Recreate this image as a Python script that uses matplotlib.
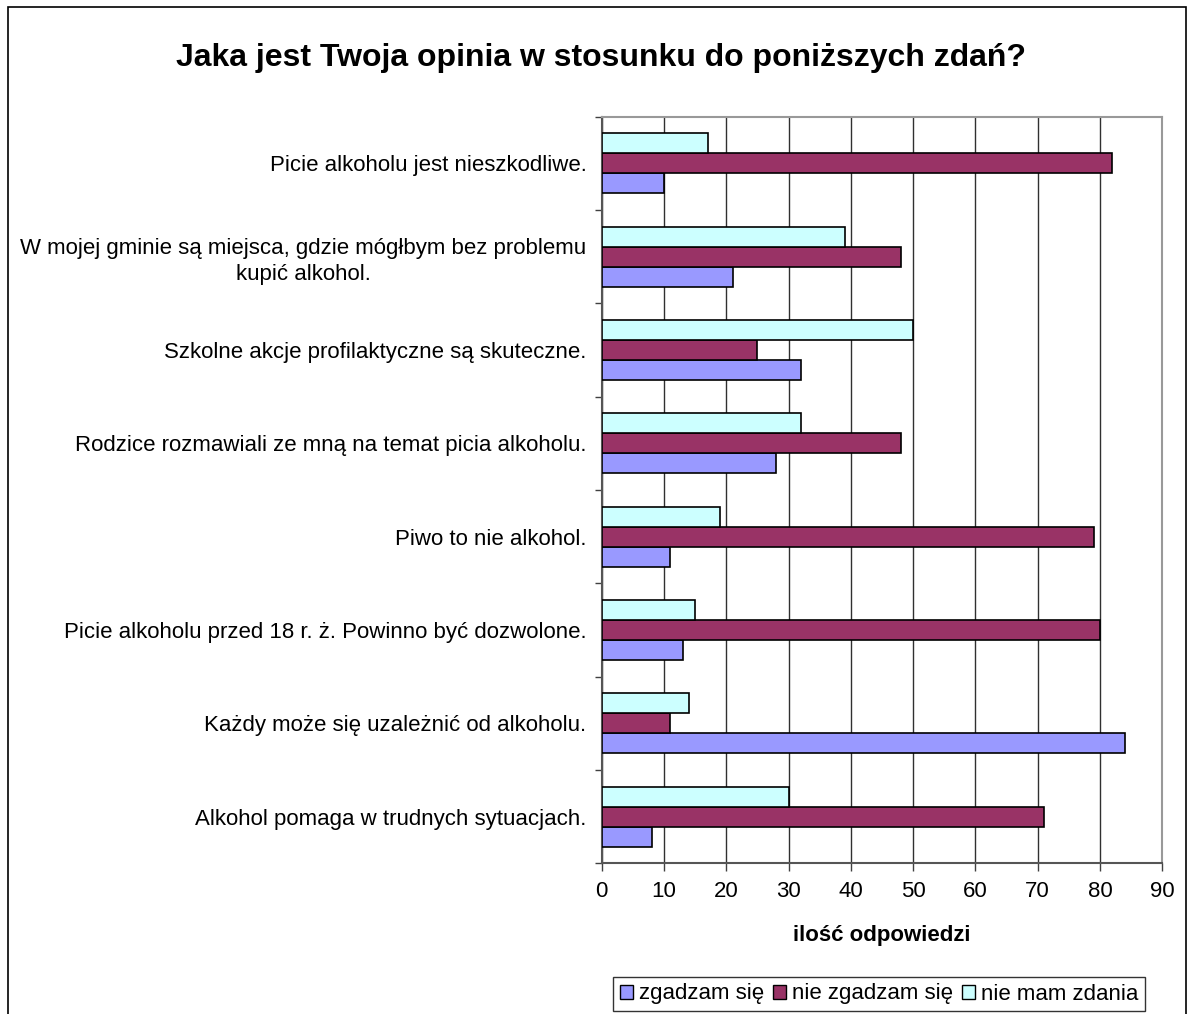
import matplotlib
matplotlib.use("Agg")
import matplotlib.pyplot as plt
from matplotlib.patches import Rectangle, Patch
import numpy as np

plt.rcParams['font.family'] = ['Liberation Sans', 'DejaVu Sans']

categories = [
    "Picie alkoholu jest nieszkodliwe.",
    "W mojej gminie są miejsca, gdzie mógłbym bez problemu\nkupić alkohol.",
    "Szkolne akcje profilaktyczne są skuteczne.",
    "Rodzice rozmawiali ze mną na temat picia alkoholu.",
    "Piwo to nie alkohol.",
    "Picie alkoholu przed 18 r. ż. Powinno być dozwolone.",
    "Każdy może się uzależnić od alkoholu.",
    "Alkohol pomaga w trudnych sytuacjach.",
]
series_names = ["zgadzam się", "nie zgadzam się", "nie mam zdania"]
zgadzam = [10, 21, 32, 28, 11, 13, 84, 8]
nie_zgadzam = [82, 48, 25, 48, 79, 80, 11, 71]
nie_mam = [17, 39, 50, 32, 19, 15, 14, 30]
colors = ["#9999FF", "#993366", "#CCFFFF"]
xticks = list(range(0, 91, 10))

W, H = 1187, 1014
fig = plt.figure(figsize=(W / 100, H / 100), dpi=100)

# outer chart border (bottom edge lies outside the picture)
fig.patches.append(Rectangle((8 / W, -0.05), (1186 - 8) / W, 1.05 - 7 / H,
                             transform=fig.transFigure, fill=False,
                             edgecolor='black', linewidth=1.2))

left, right, top, bottom = 601.7, 1162.3, 116.7, 863.3
ax = fig.add_axes([left / W, 1 - bottom / H, (right - left) / W, (bottom - top) / H])

n = len(categories)
centers = np.arange(n) + 0.5
h = 0.215
ax.barh(centers + h, zgadzam, height=h, color=colors[0], edgecolor='black', linewidth=1.2, zorder=3)
ax.barh(centers, nie_zgadzam, height=h, color=colors[1], edgecolor='black', linewidth=1.2, zorder=3)
ax.barh(centers - h, nie_mam, height=h, color=colors[2], edgecolor='black', linewidth=1.2, zorder=3)

ax.set_xlim(0, 90)
ax.set_ylim(n, 0)
ax.set_xticks(xticks)
ax.set_xticklabels([str(t) for t in xticks], fontsize=16)
ax.tick_params(axis='x', length=6, width=1, color='#404040', pad=7)
ax.xaxis.grid(True, color='#303030', linewidth=1, zorder=0)
ax.set_axisbelow(True)

ax.set_yticks(np.arange(n + 1))
ax.set_yticklabels([])
ax.tick_params(axis='y', which='major', length=5, width=1, color='#404040')
ax.set_yticks(centers, minor=True)
ax.set_yticklabels(categories, minor=True, fontsize=16)
ax.tick_params(axis='y', which='minor', length=0, pad=11)
for lab in ax.get_yticklabels(minor=True):
    lab.set_multialignment('center')
    lab.set_linespacing(1.3)

for s in ['top', 'right']:
    ax.spines[s].set_color('#999999')
    ax.spines[s].set_linewidth(1.5)
ax.spines['left'].set_color('#555555')
ax.spines['bottom'].set_color('#555555')
ax.spines['left'].set_linewidth(1.5)
ax.spines['bottom'].set_linewidth(1.5)

ax.set_xlabel("ilość odpowiedzi", fontsize=16, fontweight='bold', labelpad=16)

fig.text(601 / W, 1 - 58 / H, "Jaka jest Twoja opinia w stosunku do poniższych zdań?",
         ha='center', va='center', fontsize=23, fontweight='bold')

handles = [Patch(facecolor=c, edgecolor='black', linewidth=1) for c in colors]
leg = fig.legend(handles, series_names, loc='center', bbox_to_anchor=(879 / W, 1 - 994 / H),
                 ncol=3, fontsize=16, frameon=True, fancybox=False, edgecolor='black',
                 handlelength=0.6, handleheight=0.6, handletextpad=0.25, columnspacing=0.4,
                 borderpad=0.3, borderaxespad=0)
leg.get_frame().set_linewidth(1)

fig.savefig("out.png", dpi=100)
